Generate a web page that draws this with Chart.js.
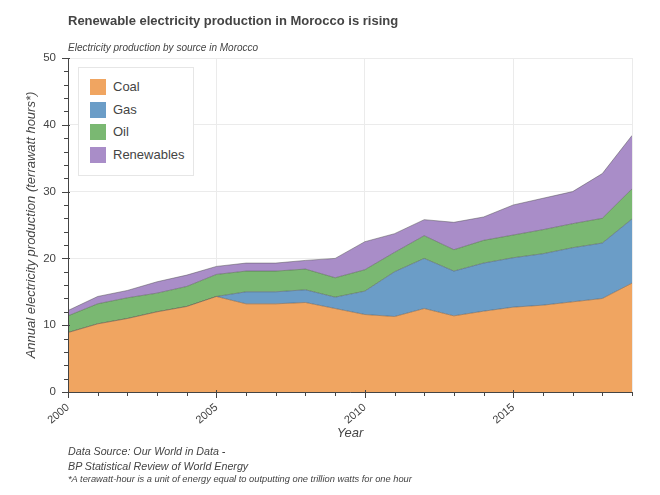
<!DOCTYPE html>
<html>
<head>
<meta charset="utf-8">
<script src="https://cdn.jsdelivr.net/npm/chart.js@4.4.1/dist/chart.umd.min.js"></script>
<style>
  body { margin: 0; background: #fff; }
  #wrap { position: relative; width: 660px; height: 495px; font-family: 'Liberation Sans', Arial, sans-serif; color: #444; }
  #chart { position: absolute; left: 0; top: 0; }
  .txt { position: absolute; white-space: nowrap; line-height: 1; }
  #legend { position: absolute; left: 78px; top: 67px; width: 114px; height: 107px; background: #fff; border: 1px solid #e6e6e6; }
  .row { position: absolute; left: 11px; height: 16px; font-size: 13px; line-height: 16px; }
  .sw { display: inline-block; width: 16px; height: 16px; vertical-align: top; margin-right: 7px; }
</style>
</head>
<body>
<div id="wrap">
  <canvas id="chart" width="660" height="495"></canvas>
  <div class="txt" style="left:68px;top:14px;font-size:13px;font-weight:bold;">Renewable electricity production in Morocco is rising</div>
  <div class="txt" style="left:68px;top:43px;font-size:10px;font-style:italic;">Electricity production by source in Morocco</div>
  <div class="txt" style="left:68px;top:446px;font-size:10.7px;font-style:italic;">Data Source: Our World in Data -</div>
  <div class="txt" style="left:68px;top:461px;font-size:10.7px;font-style:italic;">BP Statistical Review of World Energy</div>
  <div class="txt" style="left:68px;top:475px;font-size:9.3px;font-style:italic;">*A terawatt-hour is a unit of energy equal to outputting one trillion watts for one hour</div>
  <div id="legend"></div>
</div>
<script>
// ─── data (TWh) ─────────────────────────────────────────────────
const years      = [2000, 2001, 2002, 2003, 2004, 2005, 2006, 2007, 2008, 2009,
                    2010, 2011, 2012, 2013, 2014, 2015, 2016, 2017, 2018, 2019]
const coal       = [8.9, 10.2, 11.0, 12.0, 12.8, 14.3, 13.2, 13.2, 13.4, 12.5,
                    11.6, 11.3, 12.5, 11.4, 12.1, 12.7, 13.0, 13.5, 14.0, 16.3]
const gas        = [0, 0, 0, 0, 0, 0, 1.8, 1.8, 1.9, 1.7,
                    3.5, 6.7, 7.5, 6.7, 7.2, 7.4, 7.7, 8.1, 8.3, 9.6]
const oil        = [2.5, 3.0, 3.1, 2.8, 3.0, 3.3, 3.1, 3.1, 3.1, 2.9,
                    3.2, 2.9, 3.4, 3.2, 3.4, 3.4, 3.6, 3.6, 3.7, 4.5]
const renewables = [0.8, 1.1, 1.1, 1.7, 1.7, 1.2, 1.2, 1.2, 1.3, 2.9,
                    4.2, 2.8, 2.4, 4.1, 3.5, 4.5, 4.7, 4.8, 6.7, 8.0]
const yTicks     = [0, 10, 20, 30, 40, 50]
const xTicks     = [2000, 2005, 2010, 2015]

const SERIES = [
  { label: 'Coal',       data: coal,       color: '#F0A561' },
  { label: 'Gas',        data: gas,        color: '#6B9DC7' },
  { label: 'Oil',        data: oil,        color: '#7AB872' },
  { label: 'Renewables', data: renewables, color: '#A98DC8' },
]

const AXIS = '#444'
const GRID = '#ebebeb'

// tick marks + axis lines drawn on top of the areas (bokeh style)
const axisTicks = {
  id: 'axisTicks',
  beforeDatasetsDraw(chart) {
    const { ctx, chartArea: a } = chart
    ctx.save()
    ctx.strokeStyle = GRID
    ctx.lineWidth = 1
    ctx.strokeRect(a.left + 0.5, a.top + 0.5, a.right - a.left, a.bottom - a.top)
    ctx.restore()
  },
  afterDatasetsDraw(chart) {
    const { ctx, chartArea: a, scales: { x, y } } = chart
    ctx.save()
    ctx.strokeStyle = AXIS
    ctx.lineWidth = 1
    ctx.beginPath()
    ctx.moveTo(a.left + 0.5, a.top)
    ctx.lineTo(a.left + 0.5, a.bottom + 0.5)
    ctx.lineTo(a.right, a.bottom + 0.5)
    for (let v = 0; v <= 50; v += 2) {
      const py = Math.round(y.getPixelForValue(v)) + 0.5
      const major = v % 10 === 0
      ctx.moveTo(a.left - (major ? 6 : 4), py)
      ctx.lineTo(a.left + (major ? 2 : 0), py)
    }
    years.forEach(yr => {
      const px = Math.round(x.getPixelForValue(yr)) + 0.5
      const major = yr % 5 === 0
      ctx.moveTo(px, a.bottom - (major ? 2 : 0))
      ctx.lineTo(px, a.bottom + (major ? 6 : 4))
    })
    ctx.stroke()
    ctx.restore()
  }
}

new Chart(document.getElementById('chart'), {
  type: 'line',
  data: {
    datasets: SERIES.map((s, i) => ({
      label: s.label,
      data: s.data.map((v, j) => ({ x: years[j], y: v })),
      backgroundColor: s.color,
      borderColor: 'rgba(70,70,70,0.45)',
      borderWidth: 1,
      pointRadius: 0,
      tension: 0,
      fill: i === 0 ? 'origin' : '-1',
    }))
  },
  options: {
    responsive: false,
    animation: false,
    devicePixelRatio: 1,
    layout: { padding: { left: 0, top: 58, right: 28, bottom: 0 } },
    plugins: { legend: { display: false }, tooltip: { enabled: false } },
    scales: {
      x: {
        type: 'linear', min: 2000, max: 2019,
        afterBuildTicks: s => { s.ticks = xTicks.map(v => ({ value: v })) },
        afterFit: s => { s.height = 103 },
        grid: { color: GRID, drawTicks: false },
        border: { display: false },
        ticks: {
          padding: 9, minRotation: 40, maxRotation: 40,
          color: AXIS, font: { family: "'Liberation Sans', Arial", size: 11 },
          callback: v => String(v),
        },
        title: {
          display: true, text: 'Year', color: AXIS,
          font: { family: "'Liberation Sans', Arial", size: 13, style: 'italic' },
          padding: { top: 0, bottom: 54 },
        }
      },
      y: {
        stacked: true, min: 0, max: 50,
        afterBuildTicks: s => { s.ticks = yTicks.map(v => ({ value: v })) },
        afterFit: s => { s.width = 68 },
        grid: { color: GRID, drawTicks: false },
        border: { display: false },
        ticks: {
          padding: 12, color: AXIS,
          font: { family: "'Liberation Sans', Arial", size: 11.5 },
        },
        title: {
          display: true, text: 'Annual electricity production (terrawatt hours*)', color: AXIS,
          font: { family: "'Liberation Sans', Arial", size: 13, style: 'italic' },
          padding: { top: 24, bottom: 0 },
        }
      }
    }
  },
  plugins: [axisTicks]
})

// legend box inside the plot
document.getElementById('legend').innerHTML = SERIES.map((s, i) =>
  `<div class="row" style="top:${11 + i * 22.5}px"><span class="sw" style="background:${s.color}"></span>${s.label}</div>`
).join('')
</script>
</body>
</html>
